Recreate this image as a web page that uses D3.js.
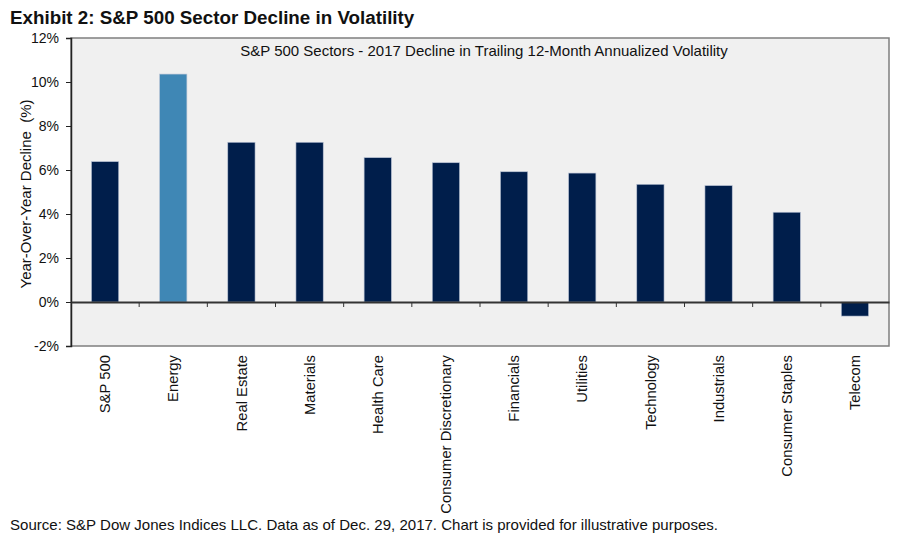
<!DOCTYPE html>
<html>
<head>
<meta charset="utf-8">
<script src="https://cdn.jsdelivr.net/npm/d3@7"></script>
<style>
  body { margin: 0; background: #fff; font-family: "Liberation Sans", Arial, sans-serif; }
</style>
</head>
<body>
<svg id="chart" width="900" height="546"></svg>
<script>
// data
const sectors = ["S&P 500", "Energy", "Real Estate", "Materials", "Health Care",
  "Consumer Discretionary", "Financials", "Utilities", "Technology", "Industrials",
  "Consumer Staples", "Telecom"];
const declines = [6.38, 10.36, 7.26, 7.26, 6.56, 6.33, 5.92, 5.86, 5.35, 5.29, 4.08, -0.64];
const highlight = ["Energy"];
const yTicks = [-2, 0, 2, 4, 6, 8, 10, 12];

const navy = "#001e4b";
const blue = "#3f87b5";

const svg = d3.select("#chart");
const m = { left: 71, right: 889, top: 38, bottom: 346 };

const x = d3.scaleBand().domain(sectors).range([m.left, m.right]).paddingInner(0).paddingOuter(0);
const y = d3.scaleLinear().domain([-2, 12]).range([m.bottom, m.top]);

// plot area
svg.append("rect")
  .attr("x", m.left).attr("y", m.top)
  .attr("width", m.right - m.left).attr("height", m.bottom - m.top)
  .attr("fill", "#f0f0f0").attr("stroke", "#7f7f7f").attr("stroke-width", 1.5);

// bars
svg.append("g").selectAll("rect")
  .data(sectors)
  .join("rect")
  .attr("x", (d) => x(d) + x.bandwidth() * 0.3)
  .attr("width", x.bandwidth() * 0.4)
  .attr("y", (d, i) => y(Math.max(0, declines[i])))
  .attr("height", (d, i) => Math.abs(y(declines[i]) - y(0)))
  .attr("fill", (d) => highlight.includes(d) ? blue : navy)
  .attr("stroke", "#b8c2d4").attr("stroke-width", 0.6);

// y axis
const yAxis = svg.append("g")
  .attr("transform", `translate(${m.left},0)`)
  .call(d3.axisLeft(y).tickValues(yTicks).tickSize(5).tickPadding(7).tickFormat((d) => d + "%"));
yAxis.select(".domain").attr("stroke", "#222").attr("stroke-width", 1.5);
yAxis.selectAll(".tick line").attr("stroke", "#222");
yAxis.selectAll("text").attr("font-size", 14).attr("fill", "#111")
  .attr("font-family", "Liberation Sans, Arial, sans-serif");

// zero line with category ticks
const xAxis = svg.append("g")
  .attr("transform", `translate(0,${y(0)})`)
  .call(d3.axisBottom(x).tickSize(0).tickFormat(""));
xAxis.select(".domain").attr("stroke", "#333").attr("stroke-width", 2);
xAxis.selectAll(".tick").remove();
svg.append("g").selectAll("line")
  .data(sectors.slice(1))
  .join("line")
  .attr("x1", (d) => x(d)).attr("x2", (d) => x(d))
  .attr("y1", y(0)).attr("y2", y(0) + 5)
  .attr("stroke", "#333").attr("stroke-width", 1);

// category labels
svg.append("g").selectAll("text")
  .data(sectors)
  .join("text")
  .attr("transform", (d) => `translate(${x(d) + x.bandwidth() / 2},355) rotate(-90)`)
  .attr("text-anchor", "end")
  .attr("dy", "0.35em")
  .attr("font-size", 14.8)
  .attr("fill", "#111")
  .text((d) => d);

// titles
svg.append("text")
  .attr("x", 10).attr("y", 24)
  .attr("font-size", 18.8).attr("font-weight", "bold").attr("fill", "#111")
  .text("Exhibit 2: S&P 500 Sector Decline in Volatility");

svg.append("text")
  .attr("x", 484).attr("y", 56)
  .attr("text-anchor", "middle")
  .attr("font-size", 15).attr("fill", "#111")
  .text("S&P 500 Sectors - 2017 Decline in Trailing 12-Month Annualized Volatility");

svg.append("text")
  .attr("transform", `translate(26,194) rotate(-90)`)
  .attr("text-anchor", "middle")
  .attr("dy", "0.35em")
  .attr("font-size", 15).attr("fill", "#111")
  .attr("xml:space", "preserve")
  .text("Year-Over-Year Decline  (%)");

svg.append("text")
  .attr("x", 10).attr("y", 530)
  .attr("font-size", 15).attr("fill", "#111")
  .attr("textLength", 708).attr("lengthAdjust", "spacingAndGlyphs")
  .text("Source: S&P Dow Jones Indices LLC. Data as of Dec. 29, 2017. Chart is provided for illustrative purposes.");
</script>
</body>
</html>
